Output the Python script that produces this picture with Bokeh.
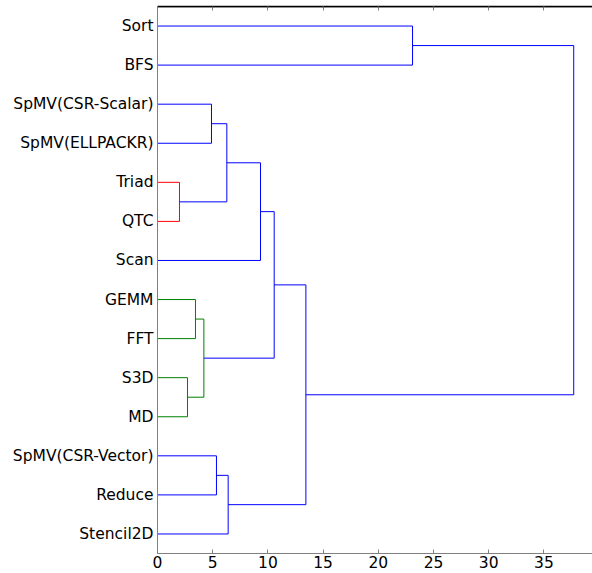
from bokeh.plotting import figure
from bokeh.models import LinearAxis, FixedTicker, Range1d, ColumnDataSource, Span
from bokeh.embed import file_html
from bokeh.resources import INLINE

# Leaves, top to bottom
leaves = ["Sort", "BFS", "SpMV(CSR-Scalar)", "SpMV(ELLPACKR)", "Triad", "QTC",
          "Scan", "GEMM", "FFT", "S3D", "MD", "SpMV(CSR-Vector)", "Reduce", "Stencil2D"]

# Linkage rows (scipy style): cluster ids 0..13 are leaves, 14+ are merges in order
link_a = [4, 9, 7, 16, 2, 11, 18, 19, 20, 22, 23, 0, 25]
link_b = [5, 10, 8, 15, 3, 12, 14, 13, 6, 17, 21, 1, 24]
link_h = [1.99, 2.72, 3.44, 4.20, 4.89, 5.34, 6.28, 6.40, 9.33, 10.57, 13.44, 23.1, 37.7]
link_color = ["#ff0000", "#008000", "#008000", "#008000", "#0000ff", "#0000ff", "#0000ff",
              "#0000ff", "#0000ff", "#0000ff", "#0000ff", "#0000ff", "#0000ff"]

x_ticks = [0, 5, 10, 15, 20, 25, 30, 35]

# dendrogram layout
n = len(leaves)
pos = {i: 10 * (n - 1 - i) + 5 for i in range(n)}
hgt = {i: 0.0 for i in range(n)}
xs, ys = [], []
for k, (a, b, h) in enumerate(zip(link_a, link_b, link_h)):
    cid = n + k
    ya, yb = pos[a], pos[b]
    xs.append([hgt[a], h, h, hgt[b]])
    ys.append([ya, ya, yb, yb])
    pos[cid] = (ya + yb) / 2
    hgt[cid] = h

src = ColumnDataSource(dict(xs=xs, ys=ys, color=link_color))

Y_TOP = 140
p = figure(frame_width=435, frame_height=547, output_backend="svg", toolbar_location=None,
           x_range=Range1d(0, 39.4), y_range=Range1d(0, Y_TOP),
           min_border_left=157, min_border_right=0, min_border_top=6, min_border_bottom=0,
           x_axis_location=None, y_axis_location=None)
p.grid.visible = False
p.outline_line_color = None
p.background_fill_color = "white"
p.border_fill_color = "white"

p.multi_line(xs="xs", ys="ys", line_color="color", line_width=1, source=src)

FONT = "DejaVu Sans"
GRAY = "#808080"

# bottom axis
xb = LinearAxis(ticker=FixedTicker(ticks=x_ticks))
xb.axis_line_color = GRAY
xb.major_tick_line_color = GRAY
xb.major_tick_in = 4
xb.major_tick_out = 0
xb.minor_tick_line_color = None
xb.major_label_text_font = FONT
xb.major_label_text_font_size = "15.5px"
xb.major_label_text_color = "black"
xb.major_label_standoff = 2
p.add_layout(xb, "below")

# top spine with inward ticks
xt = LinearAxis(ticker=FixedTicker(ticks=x_ticks))
xt.axis_line_color = "black"
xt.axis_line_width = 1.5
xt.major_tick_line_color = GRAY
xt.major_tick_in = 4
xt.major_tick_out = 0
xt.minor_tick_line_color = None
xt.major_label_text_font_size = "1px"
xt.major_label_text_color = "white"
xt.major_label_standoff = 0
p.add_layout(xt, "above")

p.add_layout(Span(location=Y_TOP, dimension="width", line_color="black", line_width=1.5))

# left axis with leaf labels
yl = LinearAxis(ticker=FixedTicker(ticks=[pos[i] for i in range(n)]))
yl.major_label_overrides = {pos[i]: leaves[i] for i in range(n)}
yl.axis_line_color = GRAY
yl.major_tick_line_color = None
yl.minor_tick_line_color = None
yl.major_tick_in = 0
yl.major_tick_out = 0
yl.major_label_text_font = FONT
yl.major_label_text_font_size = "15.5px"
yl.major_label_text_color = "black"
yl.major_label_standoff = 4
p.add_layout(yl, "left")

open("out.html", "w").write(file_html(p, INLINE))
